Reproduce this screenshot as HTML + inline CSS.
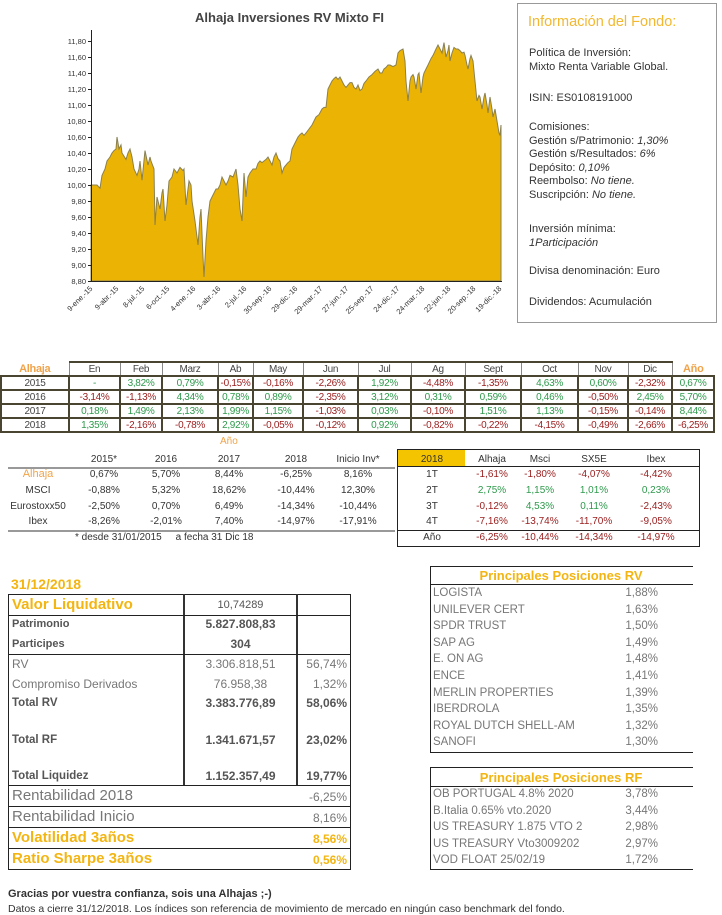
<!DOCTYPE html>
<html><head><meta charset="utf-8"><style>
body{margin:0;width:722px;height:915px;background:#fff;position:relative;font-family:"Liberation Sans",sans-serif;color:#444;overflow:hidden}
.t{position:absolute;white-space:nowrap}
.g{color:#2e9a4c}.r{color:#9a1c1c}.o{color:#f0a34a !important}.y{color:#f3b512}
table{border-collapse:collapse;table-layout:fixed;position:absolute}
#m td{border:2px solid #4a4530;text-align:center;font-size:10px;height:12px;padding:0;letter-spacing:-0.3px}
#m tr.h td{border-bottom:2px solid #4a4530;border-top:2px solid #4a4530;border-left:1px solid #888;border-right:1px solid #888;color:#444}
#m tr.h td.n{border:none !important;border-bottom:2px solid #4a4530 !important;font-size:11px}
.cen{text-align:center;width:60px;margin-left:-30px}
</style></head><body>
<!-- Chart -->
<div class="t" style="left:195px;top:10px;font-size:13px;font-weight:bold;color:#444">Alhaja Inversiones RV Mixto FI</div>
<svg style="position:absolute;left:0;top:0" width="515" height="330">
<g transform="translate(0,281) scale(1,-80) translate(0,-8.8)">
<polygon fill="#ebb303" stroke="#8a8050" stroke-width="1" vector-effect="non-scaling-stroke" points="91,8.8 91,10 97,10 100,9.96 102,10.12 105,10.2 107,10.3 110,10.35 112,10.4 114,10.43 116,10.45 117,10.6 119,10.45 121,10.5 122,10.4 126,10.32 128,10.4 130,10.45 132,10.35 134,10.2 137,10.12 139,10.2 140,10.3 142,10.06 145,10.43 148,10.25 150,10.35 151,10.3 154,10.2 155,9.5 157,9.85 159,9.75 160,9.7 162,9.9 163,9.95 165,9.55 167,9.75 169,10.05 172,10.1 174,10.2 177,10.15 180,10.22 183,10.18 184,10.2 186,9.75 189,10.05 191,10.0 192,9.8 195,9.55 197,9.35 198,9.25 200,9.6 201,9.7 203,9.1 204,8.85 206,9.3 208,9.6 210,9.8 212,9.85 214,9.9 216,9.95 218,9.95 220,10.0 222,10.1 224,10.05 226,10.0 228,10.05 230,10.12 233,10.1 236,10.2 238,10.0 240,9.7 242,9.55 244,10.15 246,9.85 248,10.1 250,10.15 253,10.2 256,10.2 258,10.27 260,10.3 262,10.28 264,10.3 266,10.32 268,10.35 270,10.3 272,10.25 274,10.35 276,10.4 278,10.33 280,10.3 282,10.15 284,10.22 286,10.25 288,10.28 290,10.3 292,10.45 294,10.5 296,10.55 298,10.6 300,10.63 302,10.65 304,10.62 306,10.65 309,10.7 312,10.75 314,10.8 316,10.85 319,10.88 322,10.95 324,10.97 326,10.97 328,11.2 330,11.25 332,11.3 334,11.33 336,11.35 338,11.32 340,11.35 342,11.3 344,11.25 346,11.22 348,11.25 350,11.28 352,11.28 354,11.22 356,11.2 358,11.25 360,11.18 362,11.2 364,11.27 366,11.3 369,11.35 372,11.38 375,11.42 378,11.45 380,11.4 382,11.4 384,11.45 386,11.47 388,11.5 390,11.5 393,11.48 396,11.5 398,11.65 400,11.68 403,11.7 405,11.55 406,11.3 408,11.05 410,11.3 411,11.35 413,11.38 414,11.35 416,11.2 418,11.38 419,11.4 421,11.15 423,11.35 424,11.4 426,11.45 428,11.5 431,11.58 433,11.62 436,11.7 438,11.75 440,11.7 442,11.65 444,11.78 446,11.6 448,11.68 449,11.75 450,11.55 452,11.65 454,11.72 456,11.7 458,11.7 460,11.68 462,11.65 464,11.66 465,11.62 467,11.5 468,11.45 470,11.58 471,11.62 473,11.55 475,11.3 477,11.05 479,11.12 480,11.1 482,10.95 484,11.1 485,11.15 487,11.0 488,10.9 490,11.1 492,10.95 493,10.85 495,10.95 497,10.8 499,10.65 500,10.62 501,10.75 501,8.8"/>
</g>
<line x1="91.5" y1="30" x2="91.5" y2="282" stroke="#222" stroke-width="1"/>
<line x1="91" y1="281.5" x2="502" y2="281.5" stroke="#222" stroke-width="1"/>
<g stroke="#222">
<line x1="88" y1="41.5" x2="91" y2="41.5"/><line x1="88" y1="57.5" x2="91" y2="57.5"/><line x1="88" y1="73.5" x2="91" y2="73.5"/><line x1="88" y1="89.5" x2="91" y2="89.5"/><line x1="88" y1="105.5" x2="91" y2="105.5"/><line x1="88" y1="121.5" x2="91" y2="121.5"/><line x1="88" y1="137.5" x2="91" y2="137.5"/><line x1="88" y1="153.5" x2="91" y2="153.5"/><line x1="88" y1="169.5" x2="91" y2="169.5"/><line x1="88" y1="185.5" x2="91" y2="185.5"/><line x1="88" y1="201.5" x2="91" y2="201.5"/><line x1="88" y1="217.5" x2="91" y2="217.5"/><line x1="88" y1="233.5" x2="91" y2="233.5"/><line x1="88" y1="249.5" x2="91" y2="249.5"/><line x1="88" y1="265.5" x2="91" y2="265.5"/><line x1="88" y1="281.5" x2="91" y2="281.5"/>
</g>
<g font-size="7.5" fill="#333" text-anchor="end" font-family="Liberation Sans">
<text x="86" y="44">11,80</text><text x="86" y="60">11,60</text><text x="86" y="76">11,40</text><text x="86" y="92">11,20</text><text x="86" y="108">11,00</text><text x="86" y="124">10,80</text><text x="86" y="140">10,60</text><text x="86" y="156">10,40</text><text x="86" y="172">10,20</text><text x="86" y="188">10,00</text><text x="86" y="204">9,80</text><text x="86" y="220">9,60</text><text x="86" y="236">9,40</text><text x="86" y="252">9,20</text><text x="86" y="268">9,00</text><text x="86" y="284">8,80</text>
</g>
<g font-size="7.5" fill="#333" text-anchor="end" font-family="Liberation Sans">
<text transform="translate(93,289) rotate(-45)">9-ene.-15</text>
<text transform="translate(119,289) rotate(-45)">9-abr.-15</text>
<text transform="translate(145,289) rotate(-45)">8-jul.-15</text>
<text transform="translate(170,289) rotate(-45)">6-oct.-15</text>
<text transform="translate(196,289) rotate(-45)">4-ene.-16</text>
<text transform="translate(221,289) rotate(-45)">3-abr.-16</text>
<text transform="translate(247,289) rotate(-45)">2-jul.-16</text>
<text transform="translate(272,289) rotate(-45)">30-sep.-16</text>
<text transform="translate(298,289) rotate(-45)">29-dic.-16</text>
<text transform="translate(323,289) rotate(-45)">29-mar.-17</text>
<text transform="translate(349,289) rotate(-45)">27-jun.-17</text>
<text transform="translate(374,289) rotate(-45)">25-sep.-17</text>
<text transform="translate(400,289) rotate(-45)">24-dic.-17</text>
<text transform="translate(425,289) rotate(-45)">24-mar.-18</text>
<text transform="translate(451,289) rotate(-45)">22-jun.-18</text>
<text transform="translate(476,289) rotate(-45)">20-sep.-18</text>
<text transform="translate(502,289) rotate(-45)">19-dic.-18</text>
</g>
</svg>
<!-- Info box -->
<div style="position:absolute;left:517px;top:3px;width:198px;height:318px;border:1px solid #999"></div>
<div class="t" style="left:528px;top:14px;font-size:14.5px;color:#f3b830">Información del Fondo:</div>
<div class="t" style="left:529px;top:47px;font-size:11px;line-height:13.6px;color:#333">Política de Inversión:<br>Mixto Renta Variable Global.</div>
<div class="t" style="left:529px;top:92px;font-size:11px;color:#333">ISIN: ES0108191000</div>
<div class="t" style="left:529px;top:121px;font-size:11px;line-height:13.6px;color:#333">Comisiones:<br>Gestión s/Patrimonio: <i>1,30%</i><br>Gestión s/Resultados: <i>6%</i><br>Depósito: <i>0,10%</i><br>Reembolso: <i>No tiene.</i><br>Suscripción: <i>No tiene.</i></div>
<div class="t" style="left:529px;top:223px;font-size:11px;line-height:13.6px;color:#333">Inversión mínima:<br><i>1Participación</i></div>
<div class="t" style="left:529px;top:265px;font-size:11px;color:#333">Divisa denominación: Euro</div>
<div class="t" style="left:529px;top:296px;font-size:11px;color:#333">Dividendos: Acumulación</div>

<!-- Monthly table -->
<table id="m" style="left:0;top:361px;width:713px">
<colgroup><col style="width:68px"><col style="width:51px"><col style="width:42px"><col style="width:56px"><col style="width:35px"><col style="width:50px"><col style="width:55px"><col style="width:53px"><col style="width:54px"><col style="width:56px"><col style="width:57px"><col style="width:50px"><col style="width:44px"><col style="width:42px"></colgroup>
<tr class="h"><td class="n o" style="font-weight:bold">Alhaja</td><td>En</td><td>Feb</td><td>Marz</td><td>Ab</td><td>May</td><td>Jun</td><td>Jul</td><td>Ag</td><td>Sept</td><td>Oct</td><td>Nov</td><td>Dic</td><td class="n o" style="font-weight:bold">Año</td></tr>
<tr><td>2015</td><td class="g">-</td><td class="g">3,82%</td><td class="g">0,79%</td><td class="r">-0,15%</td><td class="r">-0,16%</td><td class="r">-2,26%</td><td class="g">1,92%</td><td class="r">-4,48%</td><td class="r">-1,35%</td><td class="g">4,63%</td><td class="g">0,60%</td><td class="r">-2,32%</td><td class="g">0,67%</td></tr>
<tr><td>2016</td><td class="r">-3,14%</td><td class="r">-1,13%</td><td class="g">4,34%</td><td class="g">0,78%</td><td class="g">0,89%</td><td class="r">-2,35%</td><td class="g">3,12%</td><td class="g">0,31%</td><td class="g">0,59%</td><td class="g">0,46%</td><td class="r">-0,50%</td><td class="g">2,45%</td><td class="g">5,70%</td></tr>
<tr><td>2017</td><td class="g">0,18%</td><td class="g">1,49%</td><td class="g">2,13%</td><td class="g">1,99%</td><td class="g">1,15%</td><td class="r">-1,03%</td><td class="g">0,03%</td><td class="r">-0,10%</td><td class="g">1,51%</td><td class="g">1,13%</td><td class="r">-0,15%</td><td class="r">-0,14%</td><td class="g">8,44%</td></tr>
<tr><td>2018</td><td class="g">1,35%</td><td class="r">-2,16%</td><td class="r">-0,78%</td><td class="g">2,92%</td><td class="r">-0,05%</td><td class="r">-0,12%</td><td class="g">0,92%</td><td class="r">-0,82%</td><td class="r">-0,22%</td><td class="r">-4,15%</td><td class="r">-0,49%</td><td class="r">-2,66%</td><td class="r">-6,25%</td></tr>
</table>

<!-- Annual table -->
<div class="t o" style="left:220px;top:436px;font-size:10px">Año</div>
<div style="position:absolute;left:8px;top:467px;width:387px;height:2px;background:#999"></div>
<div style="position:absolute;left:8px;top:530px;width:387px;height:2px;background:#999"></div>
<div style="position:absolute;font-size:10px;color:#333;line-height:15.7px;left:0;top:452px">
<div class="t cen" style="left:104px;top:0">2015*</div><div class="t cen" style="left:166px;top:0">2016</div><div class="t cen" style="left:229px;top:0">2017</div><div class="t cen" style="left:296px;top:0">2018</div><div class="t cen" style="left:358px;top:0">Inicio Inv*</div>
<div class="t cen o" style="left:38px;top:15px;font-size:11px">Alhaja</div><div class="t cen" style="left:104px;top:15px">0,67%</div><div class="t cen" style="left:166px;top:15px">5,70%</div><div class="t cen" style="left:229px;top:15px">8,44%</div><div class="t cen" style="left:296px;top:15px">-6,25%</div><div class="t cen" style="left:358px;top:15px">8,16%</div>
<div class="t cen" style="left:38px;top:31px">MSCI</div><div class="t cen" style="left:104px;top:31px">-0,88%</div><div class="t cen" style="left:166px;top:31px">5,32%</div><div class="t cen" style="left:229px;top:31px">18,62%</div><div class="t cen" style="left:296px;top:31px">-10,44%</div><div class="t cen" style="left:358px;top:31px">12,30%</div>
<div class="t cen" style="left:38px;top:47px">Eurostoxx50</div><div class="t cen" style="left:104px;top:47px">-2,50%</div><div class="t cen" style="left:166px;top:47px">0,70%</div><div class="t cen" style="left:229px;top:47px">6,49%</div><div class="t cen" style="left:296px;top:47px">-14,34%</div><div class="t cen" style="left:358px;top:47px">-10,44%</div>
<div class="t cen" style="left:38px;top:62px">Ibex</div><div class="t cen" style="left:104px;top:62px">-8,26%</div><div class="t cen" style="left:166px;top:62px">-2,01%</div><div class="t cen" style="left:229px;top:62px">7,40%</div><div class="t cen" style="left:296px;top:62px">-14,97%</div><div class="t cen" style="left:358px;top:62px">-17,91%</div>
<div class="t" style="left:75px;top:78px">* desde 31/01/2015 &nbsp;&nbsp;&nbsp; a fecha 31 Dic 18</div>
</div>

<!-- Quarterly table -->
<div style="position:absolute;left:397px;top:449px;width:301px;height:96px;border:1px solid #222"></div>
<div style="position:absolute;left:398px;top:450px;width:67px;height:16px;background:#f5c400"></div>
<div style="position:absolute;left:398px;top:466px;width:301px;height:1px;background:#222"></div>
<div style="position:absolute;left:398px;top:530px;width:301px;height:1px;background:#222"></div>
<div style="position:absolute;font-size:10px;color:#333;left:0;top:452px;line-height:15.7px">
<div class="t cen" style="left:432px;top:0">2018</div><div class="t cen" style="left:492px;top:0">Alhaja</div><div class="t cen" style="left:540px;top:0">Msci</div><div class="t cen" style="left:594px;top:0">SX5E</div><div class="t cen" style="left:656px;top:0">Ibex</div>
<div class="t cen" style="left:432px;top:15px">1T</div><div class="t cen r" style="left:492px;top:15px">-1,61%</div><div class="t cen r" style="left:540px;top:15px">-1,80%</div><div class="t cen r" style="left:594px;top:15px">-4,07%</div><div class="t cen r" style="left:656px;top:15px">-4,42%</div>
<div class="t cen" style="left:432px;top:31px">2T</div><div class="t cen g" style="left:492px;top:31px">2,75%</div><div class="t cen g" style="left:540px;top:31px">1,15%</div><div class="t cen g" style="left:594px;top:31px">1,01%</div><div class="t cen g" style="left:656px;top:31px">0,23%</div>
<div class="t cen" style="left:432px;top:47px">3T</div><div class="t cen r" style="left:492px;top:47px">-0,12%</div><div class="t cen g" style="left:540px;top:47px">4,53%</div><div class="t cen g" style="left:594px;top:47px">0,11%</div><div class="t cen r" style="left:656px;top:47px">-2,43%</div>
<div class="t cen" style="left:432px;top:62px">4T</div><div class="t cen r" style="left:492px;top:62px">-7,16%</div><div class="t cen r" style="left:540px;top:62px">-13,74%</div><div class="t cen r" style="left:594px;top:62px">-11,70%</div><div class="t cen r" style="left:656px;top:62px">-9,05%</div>
<div class="t cen" style="left:432px;top:78px">Año</div><div class="t cen r" style="left:492px;top:78px">-6,25%</div><div class="t cen r" style="left:540px;top:78px">-10,44%</div><div class="t cen r" style="left:594px;top:78px">-14,34%</div><div class="t cen r" style="left:656px;top:78px">-14,97%</div>
</div>

<!-- Fund data -->
<div class="t y" style="left:11px;top:576px;font-size:14px;font-weight:bold">31/12/2018</div>
<div style="position:absolute;left:8px;top:594px;width:341px;height:274px;border:1px solid #222"></div>
<div style="position:absolute;left:183px;top:594px;width:2px;height:191px;background:#333"></div>
<div style="position:absolute;left:296px;top:594px;width:2px;height:191px;background:#333"></div>
<div style="position:absolute;left:9px;top:615px;width:341px;height:1px;background:#222"></div>
<div style="position:absolute;left:9px;top:654px;width:341px;height:1px;background:#222"></div>
<div style="position:absolute;left:9px;top:785px;width:341px;height:1px;background:#222"></div>
<div style="position:absolute;left:9px;top:806px;width:341px;height:1px;background:#222"></div>
<div style="position:absolute;left:9px;top:827px;width:341px;height:1px;background:#222"></div>
<div style="position:absolute;left:9px;top:848px;width:341px;height:1px;background:#222"></div>
<div class="t y" style="left:12px;top:596px;font-size:15px;font-weight:bold">Valor Liquidativo</div>
<div class="t" style="left:184px;width:113px;text-align:center;top:599px;font-size:11px;color:#555">10,74289</div>
<div class="t" style="left:12px;top:618px;font-size:11px;font-weight:bold;color:#555">Patrimonio</div>
<div class="t" style="left:184px;width:113px;text-align:center;top:617px;font-size:12px;font-weight:bold;color:#555">5.827.808,83</div>
<div class="t" style="left:12px;top:638px;font-size:11px;font-weight:bold;color:#555">Participes</div>
<div class="t" style="left:184px;width:113px;text-align:center;top:637px;font-size:12px;font-weight:bold;color:#555">304</div>
<div class="t" style="left:12px;top:657px;font-size:12px;color:#777">RV</div>
<div class="t" style="left:184px;width:113px;text-align:center;top:657px;font-size:12px;color:#777">3.306.818,51</div>
<div class="t" style="left:297px;width:50px;text-align:right;top:657px;font-size:12px;color:#777">56,74%</div>
<div class="t" style="left:12px;top:677px;font-size:12px;color:#777">Compromiso Derivados</div>
<div class="t" style="left:184px;width:113px;text-align:center;top:677px;font-size:12px;color:#777">76.958,38</div>
<div class="t" style="left:297px;width:50px;text-align:right;top:677px;font-size:12px;color:#777">1,32%</div>
<div class="t" style="left:12px;top:697px;font-size:11.5px;font-weight:bold;color:#555">Total RV</div>
<div class="t" style="left:184px;width:113px;text-align:center;top:696px;font-size:12px;font-weight:bold;color:#555">3.383.776,89</div>
<div class="t" style="left:297px;width:50px;text-align:right;top:696px;font-size:12px;font-weight:bold;color:#555">58,06%</div>
<div class="t" style="left:12px;top:734px;font-size:11.5px;font-weight:bold;color:#555">Total RF</div>
<div class="t" style="left:184px;width:113px;text-align:center;top:733px;font-size:12px;font-weight:bold;color:#555">1.341.671,57</div>
<div class="t" style="left:297px;width:50px;text-align:right;top:733px;font-size:12px;font-weight:bold;color:#555">23,02%</div>
<div class="t" style="left:12px;top:770px;font-size:11.5px;font-weight:bold;color:#555">Total Liquidez</div>
<div class="t" style="left:184px;width:113px;text-align:center;top:769px;font-size:12px;font-weight:bold;color:#555">1.152.357,49</div>
<div class="t" style="left:297px;width:50px;text-align:right;top:769px;font-size:12px;font-weight:bold;color:#555">19,77%</div>
<div class="t" style="left:12px;top:787px;font-size:15px;color:#777">Rentabilidad 2018</div>
<div class="t" style="left:297px;width:50px;text-align:right;top:790px;font-size:12px;color:#777">-6,25%</div>
<div class="t" style="left:12px;top:808px;font-size:15px;color:#777">Rentabilidad Inicio</div>
<div class="t" style="left:297px;width:50px;text-align:right;top:811px;font-size:12px;color:#777">8,16%</div>
<div class="t y" style="left:12px;top:829px;font-size:15px;font-weight:bold">Volatilidad 3años</div>
<div class="t y" style="left:297px;width:50px;text-align:right;top:832px;font-size:12px;font-weight:bold">8,56%</div>
<div class="t y" style="left:12px;top:850px;font-size:15px;font-weight:bold">Ratio Sharpe 3años</div>
<div class="t y" style="left:297px;width:50px;text-align:right;top:853px;font-size:12px;font-weight:bold">0,56%</div>

<!-- RV positions -->
<div style="position:absolute;left:430px;top:566px;width:262px;height:185px;border:1px solid #222;border-right:none"></div>
<div style="position:absolute;left:431px;top:584px;width:262px;height:1px;background:#222"></div>
<div class="t y" style="left:430px;width:262px;text-align:center;top:568px;font-size:13px;font-weight:bold">Principales Posiciones RV</div>
<div style="position:absolute;left:433px;top:585px;font-size:11.5px;color:#777;line-height:16.6px">LOGISTA<br>UNILEVER CERT<br>SPDR TRUST<br>SAP AG<br>E. ON AG<br>ENCE<br>MERLIN PROPERTIES<br>IBERDROLA<br>ROYAL DUTCH SHELL-AM<br>SANOFI</div>
<div style="position:absolute;left:600px;width:58px;text-align:right;top:585px;font-size:11.5px;color:#777;line-height:16.6px">1,88%<br>1,63%<br>1,50%<br>1,49%<br>1,48%<br>1,41%<br>1,39%<br>1,35%<br>1,32%<br>1,30%</div>

<!-- RF positions -->
<div style="position:absolute;left:430px;top:767px;width:262px;height:101px;border:1px solid #222;border-right:none"></div>
<div style="position:absolute;left:431px;top:786px;width:262px;height:1px;background:#222"></div>
<div class="t y" style="left:430px;width:262px;text-align:center;top:770px;font-size:13px;font-weight:bold">Principales Posiciones RF</div>
<div style="position:absolute;left:433px;top:786px;font-size:11.5px;color:#777;line-height:16.5px">OB PORTUGAL 4.8% 2020<br>B.Italia 0.65% vto.2020<br>US TREASURY 1.875 VTO 2<br>US TREASURY Vto3009202<br>VOD FLOAT 25/02/19</div>
<div style="position:absolute;left:600px;width:58px;text-align:right;top:786px;font-size:11.5px;color:#777;line-height:16.5px">3,78%<br>3,44%<br>2,98%<br>2,97%<br>1,72%</div>

<div class="t" style="left:8px;top:888px;font-size:11px;font-weight:bold;color:#333">Gracias por vuestra confianza, sois una Alhajas ;-)</div>
<div class="t" style="left:8px;top:903px;font-size:10.5px;color:#333">Datos a cierre 31/12/2018. Los índices son referencia de movimiento de mercado en ningún caso benchmark del fondo.</div>
</body></html>
